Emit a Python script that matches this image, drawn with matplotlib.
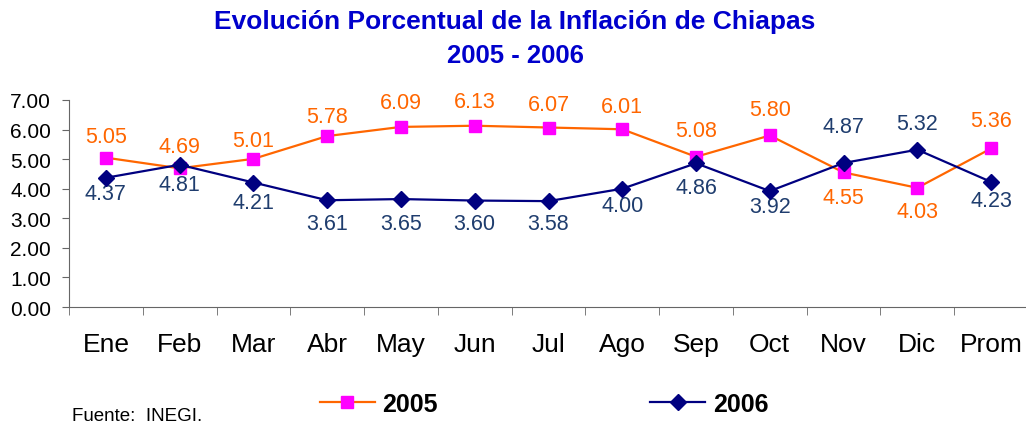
import numpy as np
import matplotlib
matplotlib.use("Agg")
import matplotlib.pyplot as plt

plt.rcParams['font.family'] = ['Liberation Sans', 'DejaVu Sans']

# Chart data
meses = ["Ene", "Feb", "Mar", "Abr", "May", "Jun", "Jul", "Ago", "Sep", "Oct", "Nov", "Dic", "Prom"]
inf_2005 = [5.05, 4.69, 5.01, 5.78, 6.09, 6.13, 6.07, 6.01, 5.08, 5.80, 4.55, 4.03, 5.36]
inf_2006 = [4.37, 4.81, 4.21, 3.61, 3.65, 3.60, 3.58, 4.00, 4.86, 3.92, 4.87, 5.32, 4.23]

# vertical offset of each data label (pixels, + = above the point)
off_2005 = [21, 22, 18, 20, 24, 24, 23, 23, 26, 26, -25, -24, 28]
off_2006 = [-16, -20, -20, -23, -24, -23, -22, -17, -24, -15, 36, 26, -19]

fig = plt.figure(figsize=(10.26, 4.27), dpi=100)
ax = fig.add_axes([69 / 1026, 1 - 308 / 427, 959 / 1026, 207 / 427])

x = np.arange(len(meses))
l1, = ax.plot(x, inf_2005, color="#FF6600", lw=1.6, marker="s", ms=8,
              mfc="#FF00FF", mec="#FF00FF", label="2005", zorder=3)
l2, = ax.plot(x, inf_2006, color="#000080", lw=1.6, marker="D", ms=8,
              mfc="#000080", mec="#000080", label="2006", zorder=4)

for xi, v, o in zip(x, inf_2005, off_2005):
    ax.annotate(f"{v:.2f}", (xi, v), xytext=(0, o * 0.72), textcoords="offset points",
                ha="center", va="center", fontsize=15.5, color="#FF6600")
for xi, v, o in zip(x, inf_2006, off_2006):
    ax.annotate(f"{v:.2f}", (xi, v), xytext=(0, o * 0.72), textcoords="offset points",
                ha="center", va="center", fontsize=15.5, color="#1F3D6E")

ax.set_xlim(-0.5, len(meses) - 0.5)
ax.set_ylim(0, 7)
ax.set_yticks(np.arange(0, 8, 1))
ax.set_yticklabels([f"{v:.2f}" for v in range(8)], fontsize=15)
ax.set_xticks(x)
ax.set_xticklabels(meses, fontsize=19)
ax.set_xticks(np.arange(-0.5, len(meses), 1), minor=True)
ax.tick_params(axis="x", which="major", length=0, pad=18)
ax.tick_params(axis="x", which="minor", length=6, color="#666666", direction="out")
ax.tick_params(axis="y", length=5, color="#666666", direction="out", pad=8)
for s in ["top", "right"]:
    ax.spines[s].set_visible(False)
for s in ["left", "bottom"]:
    ax.spines[s].set_color("#666666")
ax.set_facecolor("white")

fig.text(0.502, 1 - 22 / 427, "Evolución Porcentual de la Inflación de Chiapas",
         ha="center", va="center", fontsize=19, fontweight="bold", color="#0000CC")
fig.text(0.502, 1 - 56 / 427, "2005 - 2006",
         ha="center", va="center", fontsize=18.5, fontweight="bold", color="#0000CC")

fig.legend(handles=[l1, l2], loc="center", bbox_to_anchor=(544 / 1026, 1 - 405 / 427),
           ncol=2, frameon=False, handlelength=2.2, columnspacing=8.5, handletextpad=0.3,
           prop={"size": 18, "weight": "bold"})

fig.text(72 / 1026, 1 - 417 / 427, "Fuente:  INEGI.", ha="left", va="center", fontsize=13.5)

fig.savefig("out.png", dpi=100, facecolor="white")
